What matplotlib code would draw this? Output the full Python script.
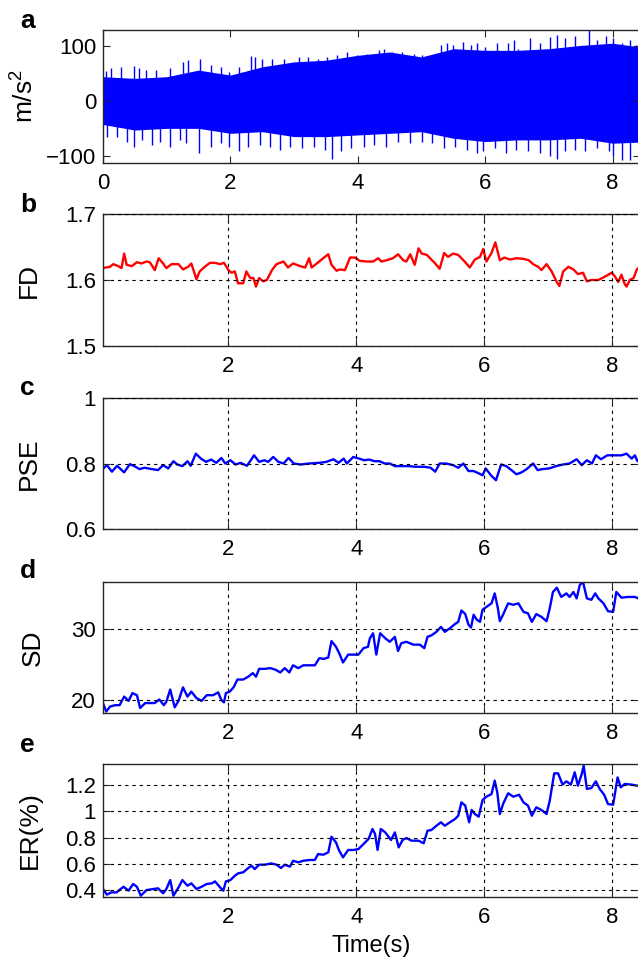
import numpy as np
import matplotlib
matplotlib.use('Agg')
import matplotlib.pyplot as plt
from matplotlib.ticker import FormatStrFormatter

plt.rcParams['font.family'] = ['Liberation Sans', 'DejaVu Sans']
plt.rcParams['mathtext.fontset'] = 'custom'
plt.rcParams['mathtext.rm'] = 'Liberation Sans'
plt.rcParams['mathtext.it'] = 'Liberation Sans:italic'

# ---- panel a : acceleration signal (envelope + visible spikes)
a_env_t = [0, 0.5, 1, 1.5, 2, 2.5, 3, 3.5, 4, 4.5, 5, 5.5, 6, 6.5, 7, 7.5, 8, 8.43]
a_body_hi = [44, 41, 44, 56, 47, 62, 71, 74, 83, 89, 80, 95, 92, 92, 95, 101, 105, 98]
a_body_lo = [-43, -53, -50, -50, -59, -56, -65, -65, -62, -59, -56, -68, -74, -71, -71, -68, -77, -75]

a_up_t = [0.05, 0.13, 0.29, 0.48, 0.57, 0.67, 0.83, 1.05, 1.25, 1.34,
          1.53, 1.69, 1.85, 1.98, 2.14, 2.33, 2.39, 2.49, 2.65, 2.84,
          3.07, 3.22, 3.38, 3.51, 3.67, 3.83, 3.99, 4.15, 4.34, 4.41,
          4.53, 4.69, 4.89, 5.01, 5.20, 5.30, 5.40, 5.49, 5.65, 5.78,
          5.87, 6.00, 6.19, 6.35, 6.45, 6.51, 6.70, 6.86, 7.02, 7.12,
          7.25, 7.41, 7.63, 7.76, 7.89, 8.01, 8.14, 8.27, 8.37]
a_up_v = [55, 59, 62, 63, 59, 56, 56, 59, 71, 74,
          77, 65, 62, 53, 62, 82, 80, 77, 76, 77,
          80, 79, 77, 79, 83, 89, 83, 86, 92, 95,
          89, 89, 86, 83, 83, 102, 105, 102, 108, 102,
          106, 98, 105, 106, 111, 95, 114, 105, 117, 120,
          115, 118, 129, 111, 118, 114, 105, 111, 102]
a_lo_t = [0.06, 0.22, 0.38, 0.48, 0.61, 0.77, 0.89, 1.05, 1.21, 1.31,
          1.50, 1.69, 1.85, 1.98, 2.14, 2.27, 2.46, 2.62, 2.78, 2.94,
          3.13, 3.32, 3.48, 3.60, 3.74, 3.90, 4.09, 4.25, 4.44, 4.63,
          4.82, 5.01, 5.17, 5.36, 5.52, 5.72, 5.87, 5.97, 6.16, 6.32,
          6.48, 6.67, 6.86, 7.02, 7.12, 7.25, 7.41, 7.57, 7.76, 7.95,
          8.01, 8.14, 8.27]
a_lo_v = [-65, -66, -74, -83, -71, -80, -74, -83, -71, -77,
          -95, -83, -77, -83, -92, -83, -80, -83, -89, -83,
          -86, -83, -89, -106, -92, -86, -83, -80, -83, -74,
          -77, -74, -77, -86, -83, -89, -95, -92, -86, -95,
          -89, -92, -95, -101, -106, -92, -89, -92, -86, -92,
          -101, -107, -107]

# ---- panel b : FD
fd_t = [0.03, 0.15, 0.20, 0.28, 0.33, 0.37, 0.41, 0.49, 0.57, 0.64,
        0.72, 0.77, 0.85, 0.91, 0.98, 1.03, 1.11, 1.22, 1.29, 1.37,
        1.42, 1.50, 1.55, 1.63, 1.71, 1.79, 1.87, 1.93, 2.00, 2.05,
        2.10, 2.15, 2.23, 2.28, 2.34, 2.39, 2.43, 2.48, 2.54, 2.60,
        2.68, 2.75, 2.86, 2.93, 3.01, 3.12, 3.20, 3.26, 3.30, 3.38,
        3.48, 3.56, 3.61, 3.69, 3.74, 3.82, 3.90, 3.98, 4.05, 4.16,
        4.26, 4.34, 4.39, 4.47, 4.57, 4.65, 4.73, 4.78, 4.84, 4.91,
        4.97, 5.02, 5.10, 5.18, 5.23, 5.30, 5.37, 5.43, 5.51, 5.59,
        5.69, 5.77, 5.85, 5.93, 5.98, 6.03, 6.11, 6.17, 6.24, 6.31,
        6.40, 6.50, 6.61, 6.69, 6.76, 6.84, 6.89, 6.97, 7.05, 7.13,
        7.17, 7.23, 7.31, 7.39, 7.46, 7.54, 7.60, 7.67, 7.78, 7.88,
        7.99, 8.04, 8.09, 8.14, 8.19, 8.22, 8.27, 8.33, 8.38, 8.43]
fd_v = [1.618, 1.620, 1.624, 1.621, 1.618, 1.640, 1.623, 1.621, 1.627, 1.625,
        1.628, 1.627, 1.615, 1.633, 1.625, 1.618, 1.624, 1.624, 1.616, 1.620,
        1.625, 1.601, 1.613, 1.620, 1.626, 1.626, 1.624, 1.626, 1.615, 1.611,
        1.613, 1.595, 1.595, 1.613, 1.603, 1.603, 1.590, 1.603, 1.598, 1.600,
        1.615, 1.624, 1.628, 1.619, 1.625, 1.621, 1.619, 1.633, 1.619, 1.625,
        1.633, 1.639, 1.623, 1.614, 1.616, 1.615, 1.634, 1.634, 1.629, 1.628,
        1.628, 1.633, 1.628, 1.630, 1.633, 1.639, 1.630, 1.628, 1.639, 1.623,
        1.648, 1.640, 1.638, 1.630, 1.625, 1.617, 1.641, 1.635, 1.640, 1.638,
        1.628, 1.619, 1.631, 1.635, 1.647, 1.628, 1.641, 1.657, 1.630, 1.634,
        1.631, 1.633, 1.632, 1.630, 1.624, 1.620, 1.615, 1.624, 1.613, 1.597,
        1.591, 1.613, 1.620, 1.616, 1.609, 1.611, 1.598, 1.600, 1.600, 1.605,
        1.611, 1.605, 1.597, 1.608, 1.594, 1.590, 1.600, 1.603, 1.616, 1.620]

# ---- panel c : PSE
pse_t = [0.02, 0.10, 0.18, 0.26, 0.37, 0.46, 0.53, 0.61, 0.69, 0.80,
         0.90, 0.98, 1.06, 1.14, 1.20, 1.28, 1.36, 1.41, 1.49, 1.57,
         1.65, 1.73, 1.81, 1.89, 1.95, 2.03, 2.11, 2.19, 2.29, 2.40,
         2.48, 2.56, 2.62, 2.70, 2.78, 2.86, 2.94, 3.02, 3.13, 3.26,
         3.42, 3.53, 3.64, 3.72, 3.80, 3.85, 3.95, 4.04, 4.12, 4.20,
         4.28, 4.36, 4.44, 4.52, 4.60, 4.71, 4.82, 4.92, 5.06, 5.16,
         5.23, 5.30, 5.40, 5.51, 5.59, 5.67, 5.75, 5.83, 5.91, 5.97,
         6.02, 6.10, 6.18, 6.26, 6.34, 6.42, 6.50, 6.58, 6.66, 6.76,
         6.83, 6.91, 7.01, 7.12, 7.23, 7.33, 7.44, 7.52, 7.60, 7.68,
         7.74, 7.82, 7.92, 8.03, 8.14, 8.22, 8.30, 8.35, 8.39, 8.43]
pse_v = [0.780, 0.795, 0.775, 0.793, 0.773, 0.798, 0.792, 0.783, 0.787, 0.783,
         0.780, 0.795, 0.785, 0.807, 0.797, 0.792, 0.807, 0.793, 0.830, 0.815,
         0.805, 0.812, 0.802, 0.817, 0.800, 0.810, 0.797, 0.802, 0.793, 0.825,
         0.805, 0.810, 0.805, 0.820, 0.805, 0.800, 0.817, 0.800, 0.797, 0.800,
         0.802, 0.805, 0.813, 0.802, 0.815, 0.800, 0.820, 0.815, 0.810, 0.812,
         0.807, 0.807, 0.800, 0.800, 0.792, 0.792, 0.792, 0.790, 0.790, 0.787,
         0.775, 0.800, 0.800, 0.795, 0.787, 0.800, 0.777, 0.777, 0.770, 0.764,
         0.785, 0.764, 0.749, 0.797, 0.792, 0.780, 0.767, 0.773, 0.783, 0.800,
         0.780, 0.783, 0.785, 0.792, 0.797, 0.800, 0.813, 0.795, 0.810, 0.800,
         0.825, 0.813, 0.825, 0.825, 0.825, 0.830, 0.815, 0.825, 0.807, 0.815]

# ---- panel d : SD
sd_t = [0.03, 0.09, 0.15, 0.23, 0.30, 0.37, 0.44, 0.50, 0.57, 0.62,
        0.70, 0.77, 0.85, 0.92, 0.99, 1.03, 1.09, 1.16, 1.22, 1.29,
        1.36, 1.42, 1.50, 1.58, 1.66, 1.76, 1.84, 1.89, 1.93, 1.96,
        2.02, 2.08, 2.14, 2.23, 2.31, 2.38, 2.43, 2.48, 2.57, 2.65,
        2.73, 2.81, 2.88, 2.95, 3.01, 3.09, 3.17, 3.27, 3.35, 3.42,
        3.49, 3.56, 3.61, 3.68, 3.73, 3.79, 3.87, 3.95, 4.03, 4.11,
        4.18, 4.21, 4.26, 4.31, 4.37, 4.45, 4.52, 4.60, 4.65, 4.70,
        4.78, 4.89, 4.99, 5.06, 5.11, 5.17, 5.25, 5.32, 5.38, 5.46,
        5.54, 5.59, 5.64, 5.70, 5.75, 5.79, 5.83, 5.88, 5.93, 5.97,
        6.03, 6.11, 6.16, 6.21, 6.24, 6.29, 6.37, 6.45, 6.53, 6.61,
        6.68, 6.74, 6.81, 6.89, 6.97, 7.02, 7.07, 7.13, 7.20, 7.28,
        7.33, 7.39, 7.44, 7.49, 7.54, 7.60, 7.67, 7.73, 7.78, 7.86,
        7.93, 8.01, 8.06, 8.14, 8.24, 8.35, 8.43]
sd_v = [19.8, 18.4, 19.1, 19.3, 19.3, 20.5, 19.9, 21.0, 20.7, 18.9,
        19.6, 19.6, 19.6, 20.1, 19.3, 19.8, 21.5, 19.0, 19.9, 21.8,
        20.5, 21.2, 20.3, 19.9, 20.7, 20.7, 21.1, 20.0, 19.7, 21.0,
        21.2, 21.8, 22.9, 22.9, 23.3, 23.8, 23.3, 24.4, 24.4, 24.5,
        24.3, 23.9, 24.5, 23.9, 24.9, 24.5, 24.9, 24.9, 24.9, 25.9,
        25.8, 26.0, 28.3, 27.5, 26.6, 25.3, 26.4, 26.4, 26.4, 27.3,
        27.5, 28.7, 29.4, 26.4, 29.4, 28.7, 28.2, 28.9, 26.9, 28.0,
        28.2, 27.8, 27.8, 27.3, 28.9, 29.1, 29.6, 30.3, 29.6, 30.1,
        30.7, 31.0, 32.6, 32.1, 30.6, 30.2, 32.0, 31.3, 31.0, 32.7,
        33.1, 33.6, 35.0, 32.9, 31.1, 32.0, 33.6, 33.4, 33.6, 32.4,
        32.2, 31.0, 32.1, 31.7, 31.1, 32.9, 35.2, 35.8, 34.5, 35.0,
        34.5, 35.2, 34.3, 36.2, 36.6, 34.3, 34.1, 35.0, 34.3, 33.6,
        32.5, 32.4, 35.2, 34.4, 34.5, 34.5, 34.2]

# ---- panel e : ER(%)
er_t = [0.03, 0.10, 0.17, 0.25, 0.36, 0.44, 0.51, 0.57, 0.63, 0.72,
        0.83, 0.90, 0.98, 1.03, 1.09, 1.14, 1.22, 1.28, 1.36, 1.42,
        1.50, 1.58, 1.66, 1.74, 1.79, 1.87, 1.92, 1.96, 2.03, 2.10,
        2.15, 2.23, 2.31, 2.36, 2.41, 2.48, 2.57, 2.67, 2.75, 2.82,
        2.88, 2.96, 3.01, 3.09, 3.17, 3.27, 3.35, 3.40, 3.48, 3.56,
        3.61, 3.68, 3.73, 3.79, 3.87, 3.95, 4.03, 4.11, 4.19, 4.25,
        4.29, 4.33, 4.38, 4.45, 4.54, 4.60, 4.66, 4.72, 4.78, 4.86,
        4.97, 5.05, 5.11, 5.17, 5.25, 5.32, 5.38, 5.46, 5.54, 5.59,
        5.64, 5.70, 5.76, 5.80, 5.85, 5.91, 5.97, 6.03, 6.11, 6.16,
        6.20, 6.24, 6.29, 6.37, 6.45, 6.54, 6.61, 6.68, 6.74, 6.81,
        6.89, 6.97, 7.02, 7.09, 7.15, 7.22, 7.28, 7.35, 7.41, 7.46,
        7.52, 7.55, 7.60, 7.67, 7.74, 7.80, 7.87, 7.93, 8.01, 8.08,
        8.13, 8.19, 8.30, 8.38, 8.43]
er_v = [0.415, 0.365, 0.382, 0.382, 0.425, 0.395, 0.446, 0.425, 0.357, 0.400,
        0.408, 0.413, 0.375, 0.408, 0.476, 0.357, 0.420, 0.476, 0.433, 0.451,
        0.408, 0.425, 0.446, 0.451, 0.466, 0.420, 0.395, 0.466, 0.476, 0.509,
        0.527, 0.535, 0.568, 0.585, 0.560, 0.593, 0.593, 0.603, 0.593, 0.568,
        0.593, 0.578, 0.623, 0.611, 0.623, 0.629, 0.629, 0.674, 0.669, 0.687,
        0.806, 0.763, 0.700, 0.649, 0.705, 0.705, 0.712, 0.750, 0.790, 0.865,
        0.827, 0.705, 0.865, 0.839, 0.781, 0.839, 0.725, 0.781, 0.796, 0.776,
        0.776, 0.756, 0.852, 0.857, 0.890, 0.916, 0.890, 0.916, 0.941, 0.966,
        1.068, 1.043, 0.916, 1.010, 0.979, 0.959, 1.086, 1.111, 1.131, 1.233,
        1.144, 0.979, 1.055, 1.137, 1.111, 1.126, 1.068, 1.043, 0.966, 1.030,
        1.010, 0.979, 1.081, 1.289, 1.289, 1.203, 1.228, 1.203, 1.297, 1.195,
        1.284, 1.347, 1.170, 1.177, 1.228, 1.170, 1.126, 1.055, 1.050, 1.258,
        1.182, 1.208, 1.203, 1.195, 1.195]

W, H = 638.0, 960.0
XMAX = 8.43
FS = 16      # tick labels
FS_Y = 19    # y labels
BLUE = (0, 0, 1)
RED = (1, 0, 0)

fig = plt.figure(figsize=(W / 100, H / 100), dpi=100)


def make_ax(top, bottom):
    ax = fig.add_axes([103 / W, 1 - bottom / H, 537 / W, (bottom - top) / H])
    for s in ax.spines.values():
        s.set_color('#262626')
        s.set_linewidth(1.0)
    ax.tick_params(direction='in', top=True, right=True, labelsize=FS,
                   length=5, width=0.8, color='#262626')
    ax.tick_params(axis='x', pad=7)
    ax.tick_params(axis='y', pad=5)
    return ax


def grid_on(ax):
    ax.grid(True, color='black', linestyle=(0, (3, 3.5)), linewidth=0.8)
    ax.set_axisbelow(False)


# a
ax = make_ax(30, 163)
ax.fill_between(a_env_t, a_body_lo, a_body_hi, color=BLUE, linewidth=0)
ax.vlines(a_up_t, 0, a_up_v, color=BLUE, linewidth=1.0)
ax.vlines(a_lo_t, 0, a_lo_v, color=BLUE, linewidth=1.0)
ax.set_xlim(0, XMAX)
ax.set_ylim(-113, 129)
ax.set_xticks([0, 2, 4, 6, 8])
ax.set_yticks([-100, 0, 100])
ax.set_ylabel('m/s$^{2}$', fontsize=FS_Y)
ax.yaxis.set_label_coords(-0.119, 0.5)
fig.text(20 / W, 1 - 28 / H, 'a', fontsize=19, fontweight='bold', va='baseline')

# b
ax = make_ax(214, 346)
ax.plot(fd_t, fd_v, color=RED, linewidth=1.7)
ax.set_xlim(0.04, XMAX)
ax.set_ylim(1.5, 1.7)
ax.set_xticks([2, 4, 6, 8])
ax.set_yticks([1.5, 1.6, 1.7])
ax.yaxis.set_major_formatter(FormatStrFormatter('%g'))
grid_on(ax)
ax.set_ylabel('FD', fontsize=FS_Y)
ax.yaxis.set_label_coords(-0.115, 0.5)
fig.text(20 / W, 1 - 212 / H, 'b', fontsize=19, fontweight='bold', va='baseline')

# c
ax = make_ax(398, 529)
ax.plot(pse_t, pse_v, color=BLUE, linewidth=1.7)
ax.set_xlim(0.04, XMAX)
ax.set_ylim(0.6, 1.0)
ax.set_xticks([2, 4, 6, 8])
ax.set_yticks([0.6, 0.8, 1.0])
ax.yaxis.set_major_formatter(FormatStrFormatter('%g'))
grid_on(ax)
ax.set_ylabel('PSE', fontsize=FS_Y)
ax.yaxis.set_label_coords(-0.115, 0.5)
fig.text(20 / W, 1 - 395 / H, 'c', fontsize=19, fontweight='bold', va='baseline')

# d
ax = make_ax(582, 713)
ax.plot(sd_t, sd_v, color=BLUE, linewidth=1.7)
ax.set_xlim(0.04, XMAX)
ax.set_ylim(18.2, 36.6)
ax.set_xticks([2, 4, 6, 8])
ax.set_yticks([20, 30])
grid_on(ax)
ax.set_ylabel('SD', fontsize=FS_Y)
ax.yaxis.set_label_coords(-0.108, 0.5)
fig.text(20 / W, 1 - 578 / H, 'd', fontsize=19, fontweight='bold', va='baseline')

# e
ax = make_ax(764, 897)
ax.plot(er_t, er_v, color=BLUE, linewidth=1.7)
ax.set_xlim(0.04, XMAX)
ax.set_ylim(0.347, 1.36)
ax.set_xticks([2, 4, 6, 8])
ax.set_yticks([0.4, 0.6, 0.8, 1.0, 1.2])
ax.yaxis.set_major_formatter(FormatStrFormatter('%g'))
grid_on(ax)
ax.set_ylabel('ER(%)', fontsize=FS_Y)
ax.yaxis.set_label_coords(-0.113, 0.5)
fig.text(20 / W, 1 - 752 / H, 'e', fontsize=19, fontweight='bold', va='baseline')

fig.text(371 / W, 1 - 946 / H, 'Time(s)', fontsize=17, ha='center', va='center')

fig.savefig('out.png', dpi=100)
